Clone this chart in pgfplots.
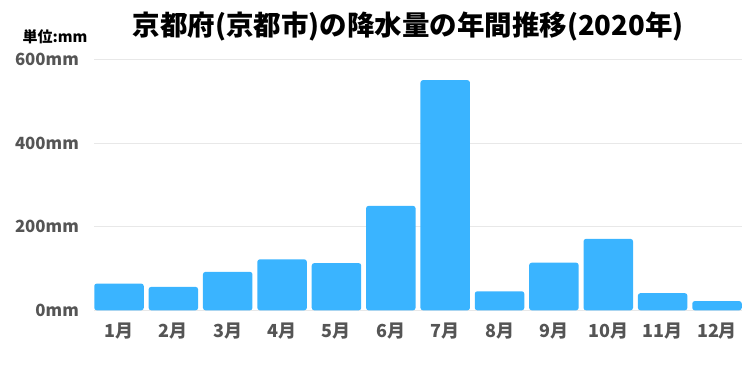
\documentclass[border=0pt]{standalone}
\usepackage{pgfplots}
\pgfplotsset{compat=1.18}
\usepackage{fontspec}
\setmainfont{Noto Sans CJK JP}
\definecolor{barblue}{HTML}{3AB4FF}
\definecolor{lbl}{HTML}{555555}
\definecolor{gridc}{HTML}{E8E8E8}
\begin{document}
\begin{tikzpicture}
\path[use as bounding box] (0,0) rectangle (751pt,374pt);
\begin{axis}[
  at={(94pt,63.7pt)}, anchor=south west,
  scale only axis, width=648pt, height=250.6pt,
  xmin=0.54, xmax=12.46, ymin=0, ymax=600,
  xtick={1,...,12},
  xticklabels={1月,2月,3月,4月,5月,6月,7月,8月,9月,10月,11月,12月},
  ytick={0,200,400,600},
  yticklabels={0mm,200mm,400mm,600mm},
  ymajorgrids, grid style={gridc, line width=1.2pt},
  axis line style={draw=none}, major tick length=0pt,
  xticklabel style={font=\bfseries\fontsize{18}{18}\selectfont, text=lbl, anchor=center, inner sep=0pt, yshift=-21pt},
  yticklabel style={font=\bfseries\fontsize{16.8}{16.8}\selectfont, text=lbl, anchor=east, inner sep=0pt, xshift=-15pt},
]
\addplot[ybar, bar width=49.5pt, fill=barblue, draw=none, rounded corners=2.5pt]
  coordinates {(1,64) (2,56) (3,92) (4,122) (5,113) (6,250) (7,551) (8,45.5) (9,114) (10,171) (11,41) (12,22)};
\end{axis}
\node[font=\bfseries\fontsize{27.5}{27.5}\selectfont, text=black] at (408pt,347pt) {京都府(京都市)の降水量の年間推移(2020年)};
\node[font=\bfseries\fontsize{15}{15}\selectfont, text=black] at (55pt,337pt) {単位:mm};
\end{tikzpicture}
\end{document}
